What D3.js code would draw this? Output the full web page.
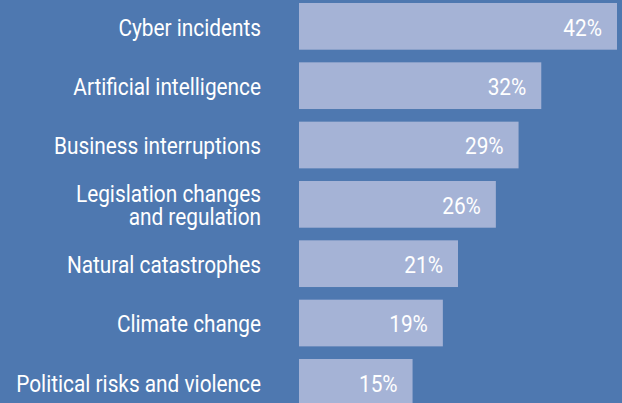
<!DOCTYPE html>
<html><head><meta charset="utf-8">
<script src="https://cdn.jsdelivr.net/npm/d3@7"></script>
<style>
html,body{margin:0;padding:0;background:#4e78b0;}
svg{display:block;}
text{font-family:Roboto, "Open Sans", sans-serif;}
</style></head>
<body>
<svg id="chart" width="622" height="403"></svg>
<script>
const categories = ["Cyber incidents","Artificial intelligence","Business interruptions","Legislation changes\nand regulation","Natural catastrophes","Climate change","Political risks and violence"];
const values = [42,32,29,26,21,19,15];
const valueLabels = ["42%","32%","29%","26%","21%","19%","15%"];

const W = 622, H = 403;
const svg = d3.select("#chart");
svg.append("rect").attr("width",W).attr("height",H).attr("fill","#4e78b0");

const x = d3.scaleLinear().domain([0,42]).range([299,617]);
const y = d3.scaleBand().domain(categories).range([3,405.7]).paddingInner(0.213).paddingOuter(0);
const sx = 0.905;

const g = svg.append("g");
g.selectAll("rect.bar").data(categories).join("rect")
  .attr("class","bar")
  .attr("x", x(0))
  .attr("y", d=>y(d))
  .attr("width", (d,i)=>x(values[i])-x(0))
  .attr("height", y.bandwidth())
  .attr("fill","#a5b3d6");

g.selectAll("text.val").data(categories).join("text")
  .attr("class","val")
  .attr("transform",(d,i)=>`translate(${x(values[i])-15},${y(d)+y.bandwidth()/2}) scale(${sx},1)`)
  .attr("dy","0.4em")
  .attr("text-anchor","end")
  .attr("fill","#ffffff")
  .attr("font-size",23)
  .text((d,i)=>valueLabels[i]);

const lab = g.selectAll("text.cat").data(categories).join("text")
  .attr("class","cat")
  .attr("transform",d=>`translate(261,${y(d)+y.bandwidth()/2}) scale(${sx},1)`)
  .attr("text-anchor","end")
  .attr("fill","#ffffff")
  .attr("font-size",23);
lab.each(function(d){
  const lines = d.split("\n");
  const t = d3.select(this);
  const lh = 23.4;
  lines.forEach((ln,k)=>{
    t.append("tspan").attr("x",0)
      .attr("y", (k-(lines.length-1)/2)*lh)
      .attr("dy","0.4em")
      .text(ln);
  });
});
</script>
</body></html>
